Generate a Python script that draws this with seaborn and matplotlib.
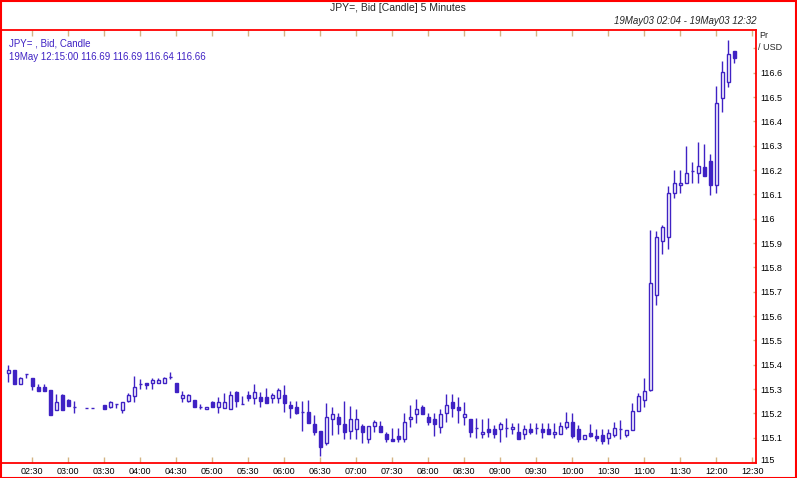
import matplotlib
matplotlib.use('Agg')
import matplotlib.pyplot as plt
import matplotlib.dates as mdates
import matplotlib.transforms as mtransforms
from matplotlib.patches import Rectangle
import numpy as np
import pandas as pd
import seaborn as sns

# 5-minute candles, 19 May 2003 (03:10 and 03:25 have no candle)
times = ['02:10', '02:15', '02:20', '02:25', '02:30', '02:35', '02:40', '02:45', '02:50', '02:55',
         '03:00', '03:05', '03:15', '03:20', '03:30', '03:35', '03:40', '03:45', '03:50', '03:55',
         '04:00', '04:05', '04:10', '04:15', '04:20', '04:25', '04:30', '04:35', '04:40', '04:45',
         '04:50', '04:55', '05:00', '05:05', '05:10', '05:15', '05:20', '05:25', '05:30', '05:35',
         '05:40', '05:45', '05:50', '05:55', '06:00', '06:05', '06:10', '06:15', '06:20', '06:25',
         '06:30', '06:35', '06:40', '06:45', '06:50', '06:55', '07:00', '07:05', '07:10', '07:15',
         '07:20', '07:25', '07:30', '07:35', '07:40', '07:45', '07:50', '07:55', '08:00', '08:05',
         '08:10', '08:15', '08:20', '08:25', '08:30', '08:35', '08:40', '08:45', '08:50', '08:55',
         '09:00', '09:05', '09:10', '09:15', '09:20', '09:25', '09:30', '09:35', '09:40', '09:45',
         '09:50', '09:55', '10:00', '10:05', '10:10', '10:15', '10:20', '10:25', '10:30', '10:35',
         '10:40', '10:45', '10:50', '10:55', '11:00', '11:05', '11:10', '11:15', '11:20', '11:25',
         '11:30', '11:35', '11:40', '11:45', '11:50', '11:55', '12:00', '12:05', '12:10', '12:15']

opens = [115.365, 115.378, 115.322, 115.360, 115.345, 115.307, 115.307, 115.297, 115.215, 115.277,
         115.255, 115.228, 115.222, 115.222, 115.234, 115.225, 115.238, 115.214, 115.252, 115.273,
         115.321, 115.325, 115.323, 115.323, 115.323, 115.351, 115.325, 115.264, 115.252, 115.254,
         115.228, 115.218, 115.247, 115.225, 115.221, 115.216, 115.286, 115.238, 115.275, 115.264,
         115.266, 115.266, 115.264, 115.264, 115.275, 115.234, 115.226, 115.207, 115.205, 115.156,
         115.128, 115.077, 115.175, 115.184, 115.156, 115.128, 115.134, 115.148, 115.093, 115.147,
         115.148, 115.115, 115.095, 115.107, 115.093, 115.175, 115.196, 115.225, 115.184, 115.175,
         115.145, 115.203, 115.245, 115.225, 115.184, 115.175, 115.138, 115.114, 115.134, 115.134,
         115.134, 115.138, 115.134, 115.125, 115.114, 115.134, 115.138, 115.134, 115.134, 115.114,
         115.114, 115.145, 115.165, 115.137, 115.095, 115.118, 115.108, 115.110, 115.097, 115.111,
         115.134, 115.110, 115.130, 115.208, 115.256, 115.295, 115.686, 115.909, 115.926, 116.106,
         116.138, 116.147, 116.195, 116.188, 116.211, 116.239, 116.138, 116.495, 116.563, 116.690]

highs = [115.399, 115.380, 115.348, 115.360, 115.345, 115.321, 115.321, 115.297, 115.281, 115.281,
         115.260, 115.251, 115.222, 115.222, 115.236, 115.249, 115.238, 115.245, 115.282, 115.354,
         115.340, 115.325, 115.345, 115.345, 115.351, 115.369, 115.325, 115.293, 115.280, 115.254,
         115.237, 115.228, 115.249, 115.269, 115.282, 115.290, 115.290, 115.271, 115.293, 115.321,
         115.289, 115.303, 115.282, 115.303, 115.317, 115.252, 115.252, 115.251, 115.255, 115.193,
         115.128, 115.241, 115.225, 115.200, 115.251, 115.230, 115.217, 115.156, 115.148, 115.173,
         115.170, 115.125, 115.138, 115.138, 115.200, 115.234, 115.258, 115.234, 115.200, 115.200,
         115.216, 115.280, 115.280, 115.269, 115.248, 115.175, 115.182, 115.175, 115.182, 115.152,
         115.166, 115.182, 115.159, 115.159, 115.152, 115.159, 115.159, 115.159, 115.159, 115.159,
         115.166, 115.207, 115.200, 115.152, 115.110, 115.155, 115.134, 115.134, 115.134, 115.163,
         115.173, 115.130, 115.244, 115.285, 115.345, 115.952, 115.949, 115.973, 116.134, 116.202,
         116.202, 116.300, 116.232, 116.316, 116.308, 116.267, 116.545, 116.649, 116.736, 116.690]

lows = [115.328, 115.322, 115.322, 115.345, 115.297, 115.292, 115.293, 115.195, 115.215, 115.215,
        115.232, 115.200, 115.222, 115.222, 115.216, 115.221, 115.221, 115.200, 115.248, 115.248,
        115.299, 115.299, 115.299, 115.323, 115.323, 115.340, 115.286, 115.245, 115.248, 115.225,
        115.219, 115.218, 115.225, 115.200, 115.221, 115.216, 115.228, 115.238, 115.252, 115.237,
        115.228, 115.244, 115.244, 115.244, 115.207, 115.182, 115.196, 115.128, 115.162, 115.111,
        115.025, 115.070, 115.111, 115.114, 115.093, 115.093, 115.093, 115.077, 115.077, 115.125,
        115.125, 115.084, 115.085, 115.084, 115.084, 115.145, 115.159, 115.196, 115.152, 115.107,
        115.118, 115.166, 115.186, 115.159, 115.152, 115.104, 115.097, 115.097, 115.104, 115.097,
        115.081, 115.104, 115.114, 115.093, 115.093, 115.114, 115.114, 115.097, 115.114, 115.097,
        115.114, 115.134, 115.097, 115.082, 115.095, 115.101, 115.088, 115.073, 115.073, 115.101,
        115.093, 115.103, 115.130, 115.208, 115.225, 115.290, 115.644, 115.853, 115.874, 116.086,
        116.106, 116.147, 116.147, 116.147, 116.175, 116.097, 116.106, 116.438, 116.543, 116.640]

closes = [115.378, 115.322, 115.345, 115.360, 115.314, 115.292, 115.293, 115.195, 115.245, 115.215,
          115.232, 115.228, 115.222, 115.222, 115.216, 115.245, 115.238, 115.245, 115.275, 115.307,
          115.321, 115.315, 115.336, 115.336, 115.345, 115.351, 115.286, 115.274, 115.277, 115.225,
          115.228, 115.225, 115.225, 115.245, 115.245, 115.275, 115.252, 115.238, 115.264, 115.286,
          115.251, 115.244, 115.274, 115.296, 115.244, 115.223, 115.201, 115.207, 115.162, 115.125,
          115.063, 115.184, 115.196, 115.155, 115.125, 115.175, 115.175, 115.125, 115.148, 115.164,
          115.125, 115.093, 115.085, 115.093, 115.163, 115.184, 115.216, 115.196, 115.163, 115.155,
          115.196, 115.234, 115.223, 115.215, 115.196, 115.125, 115.138, 115.125, 115.125, 115.114,
          115.155, 115.138, 115.145, 115.093, 115.134, 115.125, 115.138, 115.125, 115.114, 115.125,
          115.148, 115.163, 115.106, 115.096, 115.110, 115.108, 115.097, 115.088, 115.118, 115.138,
          115.134, 115.130, 115.208, 115.270, 115.290, 115.736, 115.926, 115.967, 116.106, 116.147,
          116.147, 116.188, 116.195, 116.218, 116.175, 116.138, 116.475, 116.604, 116.676, 116.660]

ytick_values = [115.0, 115.1, 115.2, 115.3, 115.4, 115.5, 115.6, 115.7, 115.8, 115.9,
                116.0, 116.1, 116.2, 116.3, 116.4, 116.5, 116.6, 116.7]
ytick_labels = ['115', '115.1', '115.2', '115.3', '115.4', '115.5', '115.6', '115.7', '115.8', '115.9',
                '116', '116.1', '116.2', '116.3', '116.4', '116.5', '116.6', '']

df = pd.DataFrame({'time': pd.to_datetime(['2003-05-19 ' + t for t in times]),
                   'open': opens, 'high': highs, 'low': lows, 'close': closes})
df['x'] = mdates.date2num(df['time'])
df['up'] = df['close'] >= df['open']

sns.set_theme(style='white')
plt.rcParams['font.family'] = ['Liberation Sans', 'DejaVu Sans']

candle = '#3F22C4'
tick_col = '#D4B483'
red = '#FF0000'

W, H = 797, 478
fig = plt.figure(figsize=(W / 100, H / 100), dpi=100)
ax = fig.add_axes([0, (H - 463) / H, 756 / W, (463 - 30) / H])
ax.set_facecolor('white')

# wicks then bodies
ax.vlines(df['x'], df['low'], df['high'], color=candle, linewidth=1.0, zorder=2)
bw = 2.8 / 1440
bottoms = np.minimum(df['open'], df['close'])
heights = (df['close'] - df['open']).abs()
faces = np.where(df['up'], 'white', candle)
ax.bar(df['x'], heights, width=bw, bottom=bottoms, color=faces, edgecolor=candle,
       linewidth=1.0, zorder=3)

ax.set_xlim(mdates.date2num(pd.Timestamp('2003-05-19 02:03:06')),
            mdates.date2num(pd.Timestamp('2003-05-19 12:33:05')))
ax.set_ylim(114.996, 116.7755)

ax.xaxis.set_major_locator(mdates.MinuteLocator(byminute=[0, 30]))
ax.xaxis.set_major_formatter(mdates.DateFormatter('%H:%M'))
ax.tick_params(axis='x', which='major', direction='in', length=4, width=1, color=tick_col,
               top=True, bottom=True, labelsize=6.5, pad=3, labelcolor='black')
ax.yaxis.tick_right()
ax.set_yticks(ytick_values)
ax.set_yticklabels(ytick_labels)
ax.tick_params(axis='y', direction='in', length=2.5, width=1, color=tick_col,
               labelsize=6.5, pad=3, labelcolor='black')
# bottom label sits a little above the frame line, as in the original
lab0 = ax.get_yticklabels()[0]
lab0.set_transform(lab0.get_transform() + mtransforms.ScaledTranslation(0, 3 / 100, fig.dpi_scale_trans))
ax.grid(False)
for s in ax.spines.values():
    s.set_color(red)
    s.set_linewidth(1.3)
ax.set_xlabel('')
ax.set_ylabel('')

# figure frame
fig.patches.append(Rectangle((0.001, 0.001), 0.998, 0.997, transform=fig.transFigure,
                             fill=False, edgecolor=red, linewidth=1.5, zorder=10))

def px(x, y):
    return x / W, 1 - y / H

fig.text(*px(398, 8), 'JPY=, Bid [Candle] 5 Minutes', ha='center', va='center', fontsize=7.5)
fig.text(*px(756, 21), '19May03 02:04 - 19May03 12:32', ha='right', va='center',
         fontsize=7, style='italic')
fig.text(*px(9, 44), 'JPY= , Bid, Candle', ha='left', va='center', fontsize=7, color=candle)
fig.text(*px(9, 57), '19May 12:15:00 116.69 116.69 116.64 116.66', ha='left', va='center',
         fontsize=7, color=candle)
fig.text(*px(759, 35), 'Pr', ha='left', va='center', fontsize=6.5)
fig.text(*px(758, 47), '/ USD', ha='left', va='center', fontsize=6.5)

fig.savefig('out.png', dpi=100)
